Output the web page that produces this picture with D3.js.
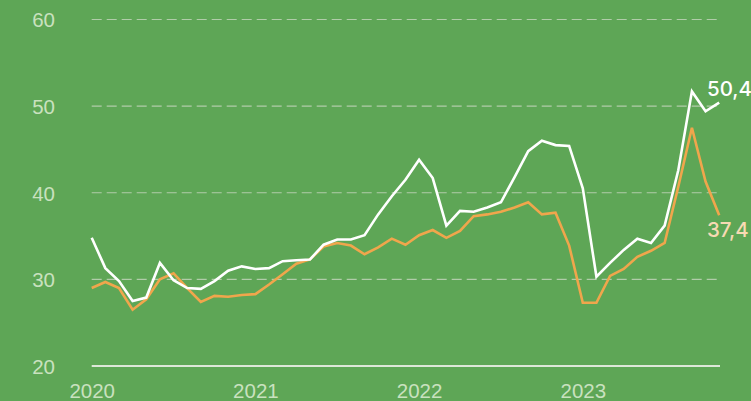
<!DOCTYPE html>
<html>
<head>
<meta charset="utf-8">
<script src="https://cdn.jsdelivr.net/npm/d3@7"></script>
<style>
  html, body { margin: 0; padding: 0; background: #5ea656; }
  svg { display: block; }
</style>
</head>
<body>
<svg id="chart" width="751" height="401"></svg>
<script>
// Monthly series, January 2020 – November 2023
const months = [
  "2020-01","2020-02","2020-03","2020-04","2020-05","2020-06","2020-07","2020-08","2020-09","2020-10","2020-11","2020-12",
  "2021-01","2021-02","2021-03","2021-04","2021-05","2021-06","2021-07","2021-08","2021-09","2021-10","2021-11","2021-12",
  "2022-01","2022-02","2022-03","2022-04","2022-05","2022-06","2022-07","2022-08","2022-09","2022-10","2022-11","2022-12",
  "2023-01","2023-02","2023-03","2023-04","2023-05","2023-06","2023-07","2023-08","2023-09","2023-10","2023-11"
];
const whiteSeries = [
  34.8, 31.3, 29.8, 27.5, 27.9, 31.9, 29.9, 29.0, 28.9, 29.8, 31.0, 31.5,
  31.2, 31.3, 32.1, 32.2, 32.3, 34.0, 34.6, 34.6, 35.1, 37.5, 39.6, 41.5,
  43.8, 41.7, 36.2, 37.9, 37.8, 38.3, 38.9, 41.8, 44.8, 46.0, 45.5, 45.4,
  40.5, 30.3, 31.9, 33.4, 34.7, 34.2, 36.2, 42.6, 51.7, 49.4, 50.4
];
const orangeSeries = [
  29.0, 29.7, 29.0, 26.5, 27.7, 30.0, 30.7, 29.0, 27.4, 28.1, 28.0, 28.2,
  28.3, 29.4, 30.6, 31.8, 32.3, 33.8, 34.2, 33.9, 32.9, 33.7, 34.7, 34.0,
  35.1, 35.7, 34.8, 35.6, 37.3, 37.5, 37.8, 38.3, 38.9, 37.5, 37.7, 33.9,
  27.3, 27.3, 30.4, 31.2, 32.6, 33.3, 34.2, 40.7, 47.5, 41.3, 37.4
];
const yTicks = [20, 30, 40, 50, 60];
const xTickMonths = ["2020-01", "2021-01", "2022-01", "2023-01"];
const xTickLabels = ["2020", "2021", "2022", "2023"];

const svg = d3.select("#chart");

const x = d3.scalePoint().domain(months).range([91.7, 719.2]).padding(0);
const y = d3.scaleLinear().domain([20, 60]).range([366, 19.5]);

const tickFont = "'Liberation Sans', Arial, sans-serif";
const tickColor = "#c9e1bf";

// Horizontal grid (dashed) and the solid base line at 20
svg.append("g")
  .selectAll("line")
  .data(yTicks)
  .join("line")
    .attr("x1", 91.7)
    .attr("x2", 720)
    .attr("y1", d => y(d))
    .attr("y2", d => y(d))
    .attr("stroke", d => d === 20 ? "#dde7d8" : "#b1cca9")
    .attr("stroke-width", d => d === 20 ? 2 : 1.2)
    .attr("stroke-dasharray", d => d === 20 ? null : "10,5");

// Y axis labels
const yAxis = d3.axisLeft(y).tickValues(yTicks).tickSize(0).tickPadding(0).tickFormat(d3.format("d"));
const gy = svg.append("g").attr("transform", "translate(55,0)").call(yAxis);
gy.select(".domain").remove();
gy.selectAll("text")
  .attr("fill", tickColor)
  .attr("font-family", tickFont)
  .attr("font-size", 20.5)
  .attr("dy", "0.36em");

// X axis labels
const xAxis = d3.axisBottom(x)
  .tickValues(xTickMonths)
  .tickSize(0)
  .tickPadding(0)
  .tickFormat(d => xTickLabels[xTickMonths.indexOf(d)]);
const gx = svg.append("g").attr("transform", "translate(0,398)").call(xAxis);
gx.select(".domain").remove();
gx.selectAll("text")
  .attr("fill", tickColor)
  .attr("font-family", tickFont)
  .attr("font-size", 20.5)
  .attr("dy", 0)
  .attr("y", 0);

// Lines
const line = d3.line()
  .x((d, i) => x(months[i]))
  .y(d => y(d));

svg.append("path")
  .datum(orangeSeries)
  .attr("fill", "none")
  .attr("stroke", "#f0a64c")
  .attr("stroke-width", 2.6)
  .attr("stroke-linejoin", "miter")
  .attr("d", line);

svg.append("path")
  .datum(whiteSeries)
  .attr("fill", "none")
  .attr("stroke", "#ffffff")
  .attr("stroke-width", 2.6)
  .attr("stroke-linejoin", "miter")
  .attr("d", line);

// End-of-line value labels
const fmt = v => d3.format(".1f")(v).replace(".", ",");
const labelFont = "Inter, 'Open Sans', sans-serif";
const last = months.length - 1;

svg.append("text")
  .attr("x", 707)
  .attr("y", 96)
  .attr("fill", "#ffffff")
  .attr("font-family", labelFont)
  .attr("font-weight", 500)
  .attr("font-size", 20.5)
  .text(fmt(whiteSeries[last]));

svg.append("text")
  .attr("x", 707)
  .attr("y", 237)
  .attr("fill", "#f7dab3")
  .attr("font-family", labelFont)
  .attr("font-weight", 500)
  .attr("font-size", 20.5)
  .text(fmt(orangeSeries[last]));
</script>
</body>
</html>
